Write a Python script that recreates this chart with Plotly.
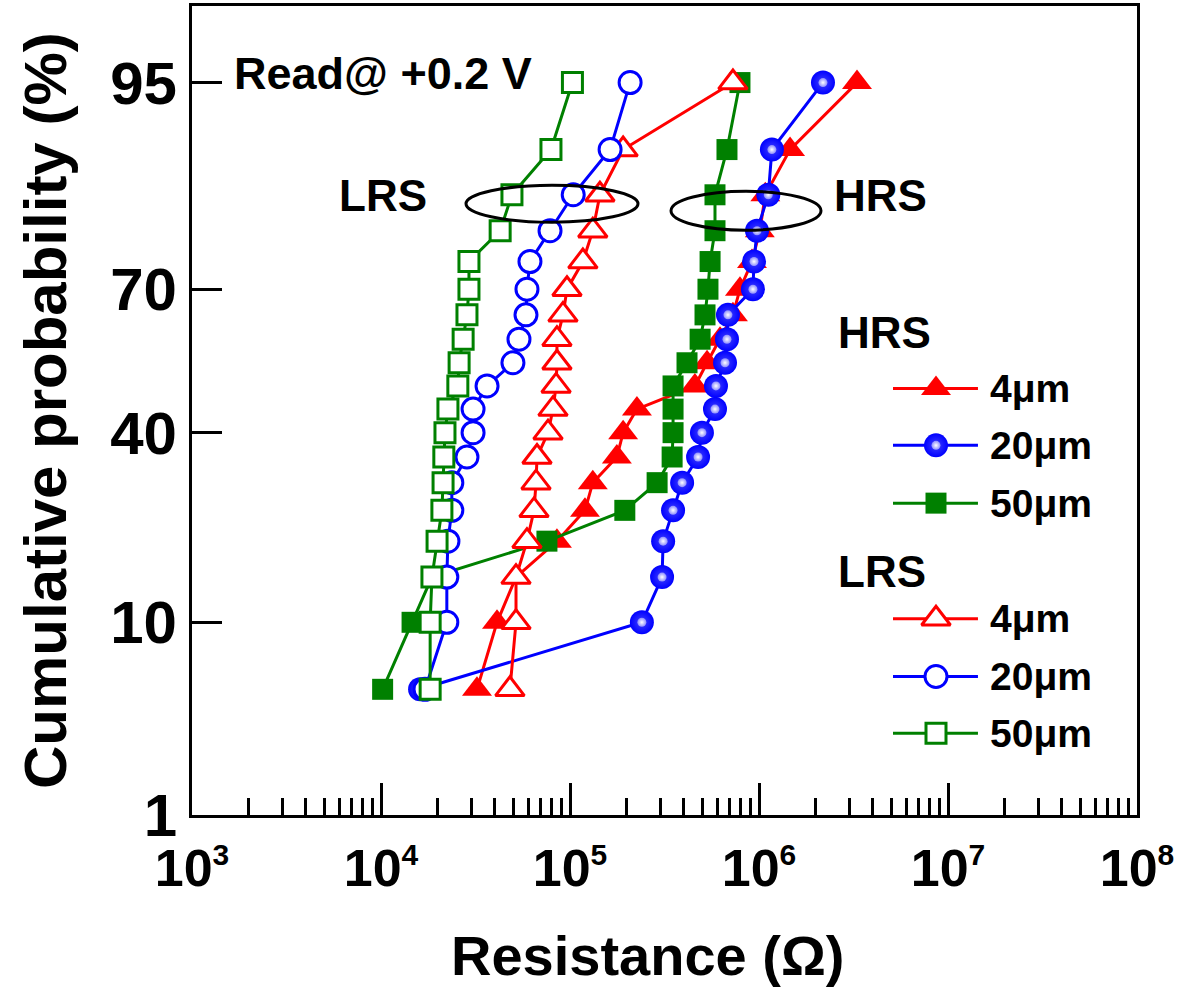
import plotly.graph_objects as go
from statistics import NormalDist

# ---- data ----
prob_pct = [5, 10, 15, 20, 25, 30, 35, 40, 45, 50, 55, 60, 65, 70, 75, 80, 85, 90, 95]

hrs_4um = [3.22e4, 4.11e4, 5.18e4, 8.53e4, 1.20e5, 1.32e5, 1.77e5, 1.91e5, 2.26e5, 4.58e5,
           5.31e5, 6.22e5, 7.28e5, 7.93e5, 9.18e5, 1.01e6, 1.08e6, 1.46e6, 3.30e6]
hrs_20um = [1.61e4, 2.40e5, 3.07e5, 3.11e5, 3.51e5, 3.92e5, 4.76e5, 4.99e5, 5.85e5, 5.92e5,
            6.61e5, 6.77e5, 6.85e5, 9.29e5, 9.41e5, 9.76e5, 1.12e6, 1.17e6, 2.18e6]
hrs_50um = [1.02e4, 1.46e4, 1.86e4, 7.55e4, 1.95e5, 2.89e5, 3.47e5, 3.51e5, 3.51e5, 3.51e5,
            4.16e5, 4.88e5, 5.18e5, 5.37e5, 5.51e5, 5.85e5, 5.85e5, 6.77e5, 7.93e5]
lrs_4um = [4.81e4, 5.18e4, 5.18e4, 5.92e4, 6.45e4, 6.61e4, 6.69e4, 7.65e4, 8.13e4, 8.44e4,
           8.53e4, 8.53e4, 9.18e4, 9.64e4, 1.17e5, 1.32e5, 1.44e5, 1.91e5, 7.28e5]
lrs_20um = [1.71e4, 2.23e4, 2.23e4, 2.26e4, 2.37e4, 2.37e4, 2.85e4, 3.07e4, 3.07e4, 3.64e4,
            4.99e4, 5.37e4, 5.85e4, 5.92e4, 6.14e4, 7.84e4, 1.04e5, 1.63e5, 2.08e5]
lrs_50um = [1.82e4, 1.82e4, 1.86e4, 1.98e4, 2.10e4, 2.13e4, 2.15e4, 2.18e4, 2.26e4, 2.55e4,
            2.59e4, 2.72e4, 2.85e4, 2.92e4, 2.92e4, 4.27e4, 4.93e4, 7.93e4, 1.03e5]

y_tick_pct = [1, 10, 40, 70, 95]
y_tick_text = ["1", "10", "40", "70", "95"]
x_tick_vals = [1e3, 1e4, 1e5, 1e6, 1e7, 1e8]
x_tick_exp = ["3", "4", "5", "6", "7", "8"]
y_range_pct = [1, 98.03]

RED = "#ff0000"
BLUE = "#0000ff"
GREEN = "#008000"
BOLD = "Liberation Sans, Arial, sans-serif"

nd = NormalDist()


def zq(p):
    return nd.inv_cdf(p / 100.0)


prob_z = [zq(p) for p in prob_pct]

fig = go.Figure()

LW = 3


def filled(xv, color, symbol, size, name):
    fig.add_trace(go.Scatter(
        x=xv, y=prob_z, mode="lines+markers", name=name, showlegend=False,
        line=dict(color=color, width=LW),
        marker=dict(symbol=symbol, size=size, color=color, line=dict(width=0))))


def sphere(xv, name):
    fig.add_trace(go.Scatter(
        x=xv, y=prob_z, mode="lines+markers", name=name, showlegend=False,
        line=dict(color=BLUE, width=LW),
        marker=dict(symbol="circle", size=24, color=BLUE, line=dict(width=0),
                    gradient=dict(type="radial", color="#4040ff"))))
    fig.add_trace(go.Scatter(
        x=xv, y=prob_z, mode="markers", showlegend=False, hoverinfo="skip",
        marker=dict(symbol="circle", size=9, color="#8c8cff", line=dict(width=0),
                    gradient=dict(type="radial", color="#ffffff"))))


def opened(xv, color, symbol, size, name):
    fig.add_trace(go.Scatter(
        x=xv, y=prob_z, mode="lines+markers", name=name, showlegend=False,
        line=dict(color=color, width=LW),
        marker=dict(symbol=symbol, size=size, color="white",
                    line=dict(color=color, width=3))))


filled(hrs_4um, RED, "triangle-up", 26, "HRS 4μm")
filled(hrs_50um, GREEN, "square", 21, "HRS 50μm")
sphere(hrs_20um, "HRS 20μm")
opened(lrs_4um, RED, "triangle-up", 25, "LRS 4μm")
opened(lrs_20um, BLUE, "circle", 22, "LRS 20μm")
opened(lrs_50um, GREEN, "square", 20, "LRS 50μm")

# ---- hand-made legend on an overlay axis (paper-like 0..1 coordinates) ----
leg_x_line = [0.7418, 0.8317]
leg_x_mark = 0.7873
leg_x_text = 0.8423
leg_rows = [0.5271, 0.4569, 0.3855, 0.2426, 0.1712, 0.1010]
leg_labels = ["4μm", "20μm", "50μm", "4μm", "20μm", "50μm"]
leg_styles = [
    (RED, "triangle-up", 26, RED, 0),
    (BLUE, "sphere", 24, BLUE, 0),
    (GREEN, "square", 21, GREEN, 0),
    (RED, "triangle-up", 25, "white", 3),
    (BLUE, "circle", 22, "white", 3),
    (GREEN, "square", 20, "white", 3),
]
for yy, lab, (col, sym, sz, fillc, lw) in zip(leg_rows, leg_labels, leg_styles):
    fig.add_trace(go.Scatter(x=leg_x_line, y=[yy, yy], mode="lines", xaxis="x2", yaxis="y2",
                             showlegend=False, hoverinfo="skip",
                             line=dict(color=col, width=LW)))
    if sym == "sphere":
        fig.add_trace(go.Scatter(x=[leg_x_mark], y=[yy], mode="markers", xaxis="x2", yaxis="y2",
                                 showlegend=False, hoverinfo="skip",
                                 marker=dict(symbol="circle", size=sz, color=BLUE, line=dict(width=0),
                                             gradient=dict(type="radial", color="#4040ff"))))
        fig.add_trace(go.Scatter(x=[leg_x_mark], y=[yy], mode="markers", xaxis="x2", yaxis="y2",
                                 showlegend=False, hoverinfo="skip",
                                 marker=dict(symbol="circle", size=9, color="#8c8cff", line=dict(width=0),
                                             gradient=dict(type="radial", color="#ffffff"))))
    else:
        fig.add_trace(go.Scatter(x=[leg_x_mark], y=[yy], mode="markers", xaxis="x2", yaxis="y2",
                                 showlegend=False, hoverinfo="skip",
                                 marker=dict(symbol=sym, size=sz, color=fillc,
                                             line=dict(color=col, width=lw))))
    fig.add_annotation(x=leg_x_text, y=yy, xref="paper", yref="paper", text=lab,
                       showarrow=False, xanchor="left", yanchor="middle",
                       font=dict(family=BOLD, size=39, color="black", weight="bold"))

txt_font = dict(family=BOLD, size=44, color="black", weight="bold")
fig.add_annotation(x=0.7323, y=0.5961, xref="paper", yref="paper", text="HRS",
                   showarrow=False, xanchor="center", yanchor="middle", font=txt_font)
fig.add_annotation(x=0.7302, y=0.3005, xref="paper", yref="paper", text="LRS",
                   showarrow=False, xanchor="center", yanchor="middle", font=txt_font)
fig.add_annotation(x=0.2021, y=0.7660, xref="paper", yref="paper", text="LRS",
                   showarrow=False, xanchor="center", yanchor="middle", font=txt_font)
fig.add_annotation(x=0.7291, y=0.7660, xref="paper", yref="paper", text="HRS",
                   showarrow=False, xanchor="center", yanchor="middle", font=txt_font)
fig.add_annotation(x=0.2021, y=0.9160, xref="paper", yref="paper", text="Read@ +0.2 V",
                   showarrow=False, xanchor="center", yanchor="middle",
                   font=dict(family=BOLD, size=45, color="black", weight="bold"))

# axis titles
fig.add_annotation(x=0.4825, y=-0.174, xref="paper", yref="paper", text="Resistance (Ω)",
                   showarrow=False, xanchor="center", yanchor="middle",
                   font=dict(family=BOLD, size=56, color="black", weight="bold"))
fig.add_annotation(x=-0.155, y=0.5, xref="paper", yref="paper", text="Cumulative probability (%)",
                   showarrow=False, xanchor="center", yanchor="middle", textangle=-90,
                   font=dict(family=BOLD, size=60, color="black", weight="bold"))

# ellipses
fig.add_shape(type="circle", xref="paper", yref="paper",
              x0=(466 - 192) / 945, x1=(638 - 192) / 945,
              y0=(815 - 220) / 812, y1=(815 - 183) / 812,
              line=dict(color="black", width=3))
fig.add_shape(type="circle", xref="paper", yref="paper",
              x0=(671 - 192) / 945, x1=(821 - 192) / 945,
              y0=(815 - 228) / 812, y1=(815 - 189) / 812,
              line=dict(color="black", width=3))

fig.update_layout(
    width=1200, height=998,
    margin=dict(l=192, r=63, t=3, b=183),
    plot_bgcolor="white", paper_bgcolor="white",
    showlegend=False,
    xaxis=dict(type="log", range=[3, 8], showgrid=False, zeroline=False,
               showline=True, linecolor="black", linewidth=3, mirror=True,
               ticks="inside", ticklen=32, tickwidth=3, tickcolor="black",
               tickvals=x_tick_vals,
               ticktext=["10<sup><span style='font-size:30px'>" + e + "</span></sup>"
                         for e in x_tick_exp],
               tickfont=dict(family=BOLD, size=52, color="black", weight="bold"),
               ticklabelstandoff=6,
               minor=dict(ticks="inside", ticklen=17, tickwidth=3, tickcolor="black",
                          dtick="D1", showgrid=False)),
    yaxis=dict(range=[zq(y_range_pct[0]), zq(y_range_pct[1])], showgrid=False, zeroline=False,
               showline=True, linecolor="black", linewidth=3, mirror=True,
               ticks="inside", ticklen=30, tickwidth=3, tickcolor="black",
               tickvals=[zq(p) for p in y_tick_pct], ticktext=y_tick_text,
               tickfont=dict(family=BOLD, size=60, color="black", weight="bold")),
    xaxis2=dict(overlaying="x", range=[0, 1], visible=False, anchor="y2"),
    yaxis2=dict(overlaying="y", range=[0, 1], visible=False, anchor="x2"),
)

fig.write_html("out.html", config={"displayModeBar": False},
               post_script="document.body.style.margin='0';document.body.style.overflow='hidden';")
